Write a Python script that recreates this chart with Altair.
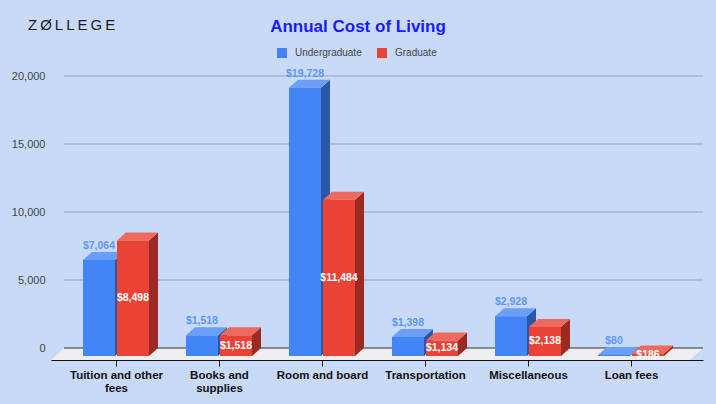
import json
import textwrap

import altair as alt
import pandas as pd

# ---- data -----------------------------------------------------------------
categories = ["Tuition and other fees", "Books and supplies", "Room and board",
              "Transportation", "Miscellaneous", "Loan fees"]
undergraduate = [7064, 1518, 19728, 1398, 2928, 80]
graduate = [8498, 1518, 11484, 1134, 2138, 186]
series = ["Undergraduate", "Graduate"]
y_ticks = [0, 5000, 10000, 15000, 20000]

# ---- styling --------------------------------------------------------------
FONT = "Liberation Sans"
BG = "#c9daf8"
FRONT = {"Undergraduate": "#4285f4", "Graduate": "#ea4335"}
TOP = {"Undergraduate": "#6b9ef6", "Graduate": "#ee6a5e"}
SIDE = {"Undergraduate": "#2b57a8", "Graduate": "#9a2a22"}
LABEL_BLUE = "#5f97f5"

# ---- pseudo-3D geometry (pixels) -----------------------------------------
W, H = 652, 290          # plot area
SLOT = 103               # width of one category slot
FIRST = 65               # centre of the first slot, from the plot's left edge
PX_PER_USD = 68 / 5000   # vertical scale
BASE = 4                 # front baseline sits this far above the plot bottom
DEPTH_X, DEPTH_Y = 9, 8  # bar depth
BAR = 32                 # bar width
BAR_OFFSET = {"Undergraduate": -33, "Graduate": 1}
FLOOR_X, FLOOR_Y = 13, 12


def ux(px):
    """pixels -> category units"""
    return px / SLOT


def uy(px):
    """pixels -> dollar units"""
    return px / PX_PER_USD


x_dom = [ux(-FIRST), ux(W - FIRST)]
y_dom = [uy(-BASE), uy(H - BASE)]
xs = alt.Scale(domain=x_dom, nice=False, zero=False)
ys = alt.Scale(domain=y_dom, nice=False, zero=False)

# one row per bar
bar_rows = []
for s, vals in (("Undergraduate", undergraduate), ("Graduate", graduate)):
    for i, v in enumerate(vals):
        xl = i + ux(BAR_OFFSET[s])
        xr = xl + ux(BAR)
        bar_rows.append(dict(bar=f"{s}-{i}", series=s, cat=categories[i], value=v,
                             xl=xl, xr=xr, xm=(xl + xr) / 2, half=v / 2))
bars = pd.DataFrame(bar_rows)

# right-hand face of each bar: a parallelogram drawn as a two-point area
side_df = pd.DataFrame([r for b in bar_rows for r in (
    dict(bar=b["bar"], series=b["series"], x=b["xr"], lo=0, hi=b["value"]),
    dict(bar=b["bar"], series=b["series"], x=b["xr"] + ux(DEPTH_X),
         lo=uy(DEPTH_Y), hi=b["value"] + uy(DEPTH_Y)),
)])

# top face of each bar: a horizontal two-point area
top_df = pd.DataFrame([r for b in bar_rows for r in (
    dict(bar=b["bar"], series=b["series"], y=b["value"], a=b["xl"], b=b["xr"]),
    dict(bar=b["bar"], series=b["series"], y=b["value"] + uy(DEPTH_Y),
         a=b["xl"] + ux(DEPTH_X), b=b["xr"] + ux(DEPTH_X)),
)])

# floor slab under the bars
floor_df = pd.DataFrame([
    dict(y=y_dom[0], a=x_dom[0], b=x_dom[1] - ux(FLOOR_X)),
    dict(y=y_dom[0] + uy(FLOOR_Y), a=x_dom[0] + ux(FLOOR_X), b=x_dom[1]),
])

# gridlines live on the back wall
grid_df = pd.DataFrame(dict(
    tick=y_ticks,
    gy=[t + uy(DEPTH_Y) for t in y_ticks],
    gx=x_dom[0] + ux(FLOOR_X),
    gx2=x_dom[1],
))

wrapped = [textwrap.wrap(c, 17) for c in categories]
label_expr = f"{json.dumps(wrapped)}[round(datum.value)]"

# the same axes are given to every layer so they merge into one
x_axis = alt.Axis(
    values=list(range(len(categories))), labelExpr=label_expr, title=None,
    grid=False, domainColor="#111111", tickColor="#111111", tickSize=6,
    labelFont=FONT, labelFontSize=11.5, labelFontWeight="bold", labelColor="#111111",
    labelPadding=3, labelLineHeight=13, labelFlush=False, labelOverlap=False,
)
y_axis = alt.Axis(
    values=y_ticks, labelExpr="format(datum.value, ',')", title=None,
    grid=False, domain=False, ticks=False,
    labelFont=FONT, labelFontSize=11, labelColor="#444444", labelPadding=6,
    labelOffset=-DEPTH_Y, labelFlush=False,
)


def X(field):
    return alt.X(field, scale=xs, axis=x_axis)


def Y(field):
    return alt.Y(field, scale=ys, axis=y_axis)


# ---- layers ---------------------------------------------------------------
floor = alt.Chart(floor_df).mark_area(orient="horizontal", color="#eeeeee").encode(
    y=Y("y:Q"), x=X("a:Q"), x2="b:Q",
)

grid = alt.Chart(grid_df).transform_filter(alt.datum.tick > 0).mark_rule(
    color="#9aa3b5", strokeWidth=1
).encode(y=Y("gy:Q"), x=X("gx:Q"), x2="gx2:Q")

baseline = alt.Chart(grid_df).transform_filter(alt.datum.tick == 0).mark_rule(
    color="#333333", strokeWidth=1
).encode(y=Y("gy:Q"), x=X("gx:Q"), x2="gx2:Q")


def depth_faces(s):
    side = alt.Chart(side_df).transform_filter(alt.datum.series == s).mark_area(
        color=SIDE[s]
    ).encode(x=X("x:Q"), y=Y("lo:Q"), y2="hi:Q", detail="bar:N")
    top = alt.Chart(top_df).transform_filter(alt.datum.series == s).mark_area(
        orient="horizontal", color=TOP[s]
    ).encode(y=Y("y:Q"), x=X("a:Q"), x2="b:Q", detail="bar:N")
    return [side, top]


front = alt.Chart(bars).mark_bar().encode(
    x=X("xl:Q"),
    x2="xr:Q",
    y=Y("value:Q"),
    y2=alt.datum(0),
    color=alt.Color("series:N", scale=alt.Scale(domain=series, range=[FRONT[s] for s in series]),
                    legend=alt.Legend(
                        orient="none", legendX=226, legendY=-22, direction="horizontal",
                        title=None, symbolType="square", symbolSize=100, symbolStrokeWidth=0,
                        labelFont=FONT, labelFontSize=10, labelColor="#444444",
                        labelOffset=8, columnPadding=15, padding=0,
                    )),
    tooltip=["cat:N", "series:N", "value:Q"],
)

under_labels = alt.Chart(bars).transform_filter(alt.datum.series == "Undergraduate").mark_text(
    dy=-14, font=FONT, fontSize=10.5, fontWeight="bold", color=LABEL_BLUE
).encode(x=X("xm:Q"), y=Y("value:Q"), text=alt.Text("value:Q", format="$,"))

grad_labels = alt.Chart(bars).transform_filter(alt.datum.series == "Graduate").mark_text(
    font=FONT, fontSize=10.5, fontWeight="bold", color="white"
).encode(x=X("xm:Q"), y=Y("half:Q"), text=alt.Text("value:Q", format="$,"))

# wordmark, letter-spaced with thin spaces
logo_text = "\u2009".join("ZØLLEGE")
logo = alt.Chart(pd.DataFrame({"t": [logo_text]})).mark_text(
    align="left", baseline="alphabetic", font=FONT, fontSize=15, color="#1c1c1c"
).encode(text="t:N", x=alt.value(-23), y=alt.value(-40))

chart = alt.layer(
    floor, grid, baseline,
    *depth_faces("Undergraduate"), *depth_faces("Graduate"),
    front, under_labels, grad_labels, logo,
).properties(
    width=W,
    height=H,
    title=alt.TitleParams(
        "Annual Cost of Living", anchor="middle", frame="group", dx=-19, dy=28, offset=10,
        font=FONT, fontSize=17, fontWeight="bold", color="#1a1aff",
    ),
    autosize=alt.AutoSizeParams(type="none"),
    padding={"left": 51, "top": 70, "right": 13, "bottom": 44},
    background=BG,
).configure_view(stroke=None)

chart.save("out.html", embed_options={"renderer": "svg", "actions": False})
